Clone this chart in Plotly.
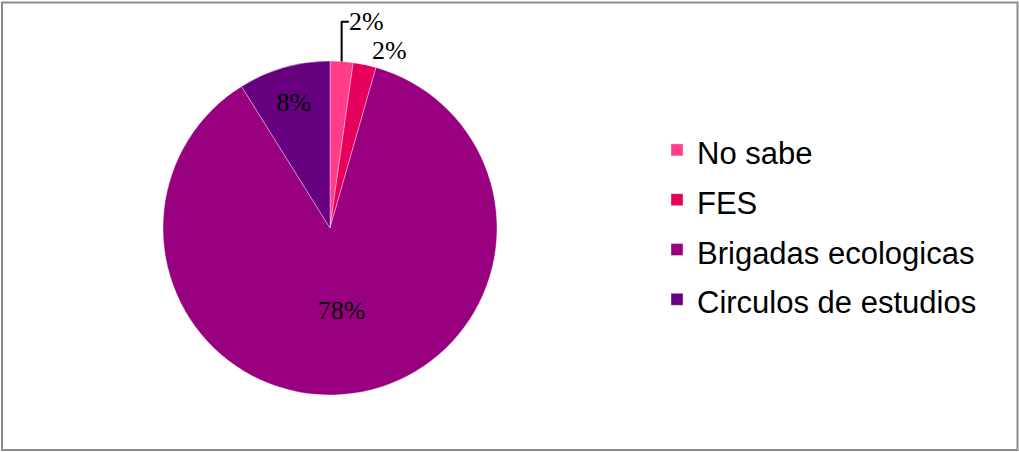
import plotly.graph_objects as go

# ---- data ----
categories = ["No sabe", "FES", "Brigadas ecologicas", "Circulos de estudios"]
values = [2, 2, 78, 8]
value_labels = ["2%", "2%", "78%", "8%"]
colors = ["#FF3D8B", "#E6005C", "#990080", "#66007F"]

W, H = 1019, 452

legend_labels = [f"<span style='font-size:31px'>{c}</span>" for c in categories]

fig = go.Figure(go.Pie(
    labels=legend_labels,
    values=values,
    text=value_labels,
    texttemplate="%{text}",
    sort=False,
    direction="clockwise",
    rotation=0,
    marker=dict(colors=colors, line=dict(color="rgba(255,255,255,0.6)", width=0.6)),
    textposition=["outside", "outside", "inside", "inside"],
    insidetextorientation="horizontal",
    textfont=dict(family="Liberation Serif", size=26, color="black"),
    insidetextfont=dict(family="Liberation Serif", size=26, color="black"),
    outsidetextfont=dict(family="Liberation Serif", size=26, color="black"),
    domain=dict(x=[163 / W, 497 / W], y=[1 - 395 / H, 1 - 61 / H]),
    hoverinfo="label+percent",
))

fig.update_layout(
    width=W, height=H,
    margin=dict(l=0, r=0, t=0, b=0),
    paper_bgcolor="white",
    plot_bgcolor="white",
    showlegend=True,
    legend=dict(
        x=657 / W, xanchor="left",
        y=1 - 225 / H, yanchor="middle",
        font=dict(family="Liberation Sans", size=36, color="black"),
        bgcolor="rgba(0,0,0,0)",
    ),
    shapes=[dict(
        type="rect", xref="paper", yref="paper",
        x0=2 / W, x1=1017.5 / W, y0=1 - 450 / H, y1=1 - 2.5 / H,
        line=dict(color="#8c8c8c", width=2), fillcolor="rgba(0,0,0,0)",
        layer="above",
    )],
)

fig.write_html(
    "out.html",
    config={"displayModeBar": False},
    post_script="document.body.style.margin='0';document.body.style.overflow='hidden';",
)
